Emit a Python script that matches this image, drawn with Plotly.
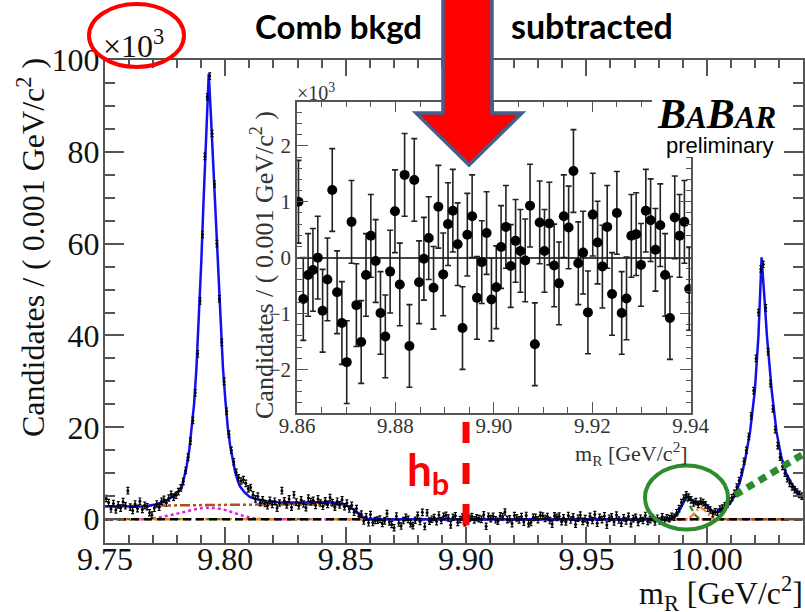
import numpy as np
import plotly.graph_objects as go

# ---------------- main spectrum (1 MeV bins) ----------------
# region 9.750 - 9.860
low_x = np.round(np.arange(110) * 0.001 + 9.7505, 4)
low_y = [4.5, 3.6, 2.2, 3.4, 2.0, 3.1, 2.4, 3.8, 2.9, 6.2,
         2.6, 1.9, 3.3, 2.3, 3.9, 2.1, 3.0, 2.7, 1.4, 0.9,
         2.4, 3.3, 2.6, 3.9, 4.3, 3.5, 4.6, 5.4, 4.8, 5.2,
         6.0, 6.8, 8.2, 10.6, 13.5, 17.0, 21.5, 27.5, 36.0, 47.5,
         62.0, 79.0, 92.0, 96.5, 84.0, 73.0, 60.0, 48.0, 38.5, 30.0,
         23.5, 18.5, 15.0, 12.5, 10.2, 9.0, 8.3, 8.6, 7.8, 6.6,
         6.9, 5.3, 4.4, 5.0, 3.6, 4.2, 3.4, 2.9, 4.1, 3.2,
         3.9, 2.4, 3.5, 6.2, 4.0, 3.1, 4.4, 2.6, 5.3, 3.7,
         2.9, 4.2, 3.3, 2.5, 4.6, 3.8, 4.1, 3.0, 4.4, 3.5,
         2.8, 4.0, 3.2, 4.7, 3.6, 2.6, 3.9, 3.1, 4.2, 2.7,
         3.5, 2.2, 3.0, 1.5, 2.3, 0.6, 1.1, -0.4, 0.5, -0.8]

# region 9.860 - 9.940 (also shown enlarged in the inset)
mid_x = np.linspace(9.8603, 9.9397, 82)
mid_y = [1.00, -0.74, -0.31, -0.22, 0.00, -0.95, -0.39, 1.21, -0.62, -1.17,
         -1.87, 0.64, -0.85, -1.51, -0.31, 0.39, -0.06, -0.99, -1.41, -0.25,
         0.83, -0.48, 1.48, -1.58, 1.39, -0.44, -0.02, 0.35, -0.54, 0.91,
         -0.30, 0.60, 0.84, 0.24, -1.26, 0.41, 0.74, -0.72, -0.08, 0.44,
         -0.75, -0.53, 0.19, 0.55, -0.15, 0.30, 0.12, -0.05, 0.93, -1.55,
         0.63, 0.12, 0.61, -0.14, -0.46, 0.74, 0.54, 1.55, -0.10, 0.09,
         -0.98, 0.77, 0.27, -0.16, 0.55, -0.65, 0.80, -0.99, -0.73, 0.39,
         0.42, -0.13, 0.84, 0.67, 0.14, 0.58, -0.31, -1.08, 0.72, 0.39,
         0.64, -0.56]
mid_err = [0.74] * len(mid_y)

# region 9.940 - 10.040
high_x = np.round(np.arange(100) * 0.001 + 9.9405, 4)
high_y = [0.3, -0.6, 0.8, -0.2, 0.5, -1.1, 0.2, 0.9, -0.5, 0.1,
          -0.8, 0.6, -0.3, 1.0, -0.9, 0.4, -0.1, 0.7, -1.3, 0.2,
          0.5, -0.6, 0.9, -0.2, -0.9, 0.3, -0.4, 0.6, -1.0, 0.1,
          0.4, -0.7, 0.2, -0.3, 0.8, -0.5, -0.1, 0.3, -0.6, 0.2,
          -0.4, 0.5, -0.2, 0.3, 0.1, 0.6, 0.4, 1.4, 2.3, 3.6,
          4.6, 5.3, 4.8, 4.2, 3.5, 3.8, 3.2, 3.9, 3.6, 3.1,
          2.4, 2.0, 1.2, 1.6, 1.5, 2.2, 2.4, 2.9, 3.2, 3.9,
          4.7, 5.6, 7.0, 8.4, 10.2, 12.6, 15.0, 18.0, 22.5, 28.0,
          35.0, 45.0, 54.5, 55.5, 46.0, 36.5, 29.5, 24.0, 19.5, 16.0,
          13.5, 11.5, 10.0, 8.8, 7.8, 7.0, 6.4, 5.9, 5.4, 5.0]

data_x = np.concatenate([low_x, mid_x, high_x])
data_y = np.array(low_y + mid_y + high_y)
data_err = np.array([0.7] * len(data_y))

# ---------------- fit components ----------------
fit_x = [9.750, 9.755, 9.760, 9.765, 9.768, 9.771, 9.774, 9.776, 9.778, 9.780,
         9.7818, 9.7839, 9.785, 9.786, 9.787, 9.788, 9.789, 9.790, 9.791, 9.792,
         9.7931, 9.794, 9.795, 9.796, 9.797, 9.798, 9.799, 9.800, 9.801, 9.802,
         9.803, 9.804, 9.805, 9.806, 9.808, 9.810, 9.813, 9.817, 9.822, 9.830,
         9.838, 9.845, 9.849, 9.851, 9.853, 9.855, 9.857, 9.859, 9.862, 9.984,
         9.986, 9.988, 9.990, 9.9915, 9.993, 9.9945, 9.996, 9.998, 9.9995, 10.001,
         10.0025, 10.004, 10.006, 10.008, 10.010, 10.012, 10.014, 10.016, 10.018, 10.020,
         10.0215, 10.0228, 10.024, 10.025, 10.027, 10.029, 10.031, 10.033, 10.035, 10.037,
         10.039, 10.040]
fit_y = [2.8, 2.75, 2.7, 2.75, 2.9, 3.2, 3.7, 4.2, 4.9, 5.8,
         6.7, 11.4, 15.0, 20.0, 25.0, 33.0, 44.0, 56.0, 70.0, 84.0,
         97.0, 88.0, 77.0, 65.0, 52.0, 41.0, 33.0, 26.0, 20.0, 16.0,
         13.0, 10.5, 8.6, 7.2, 5.8, 4.9, 4.3, 3.9, 3.7, 3.6,
         3.7, 3.6, 3.2, 2.8, 2.2, 1.4, 0.5, 0.1, 0.0, 0.0,
         0.3, 1.3, 3.2, 5.0, 4.5, 3.8, 3.4, 3.6, 3.3, 2.5,
         1.6, 1.5, 2.0, 2.5, 3.6, 5.5, 8.5, 13.0, 19.0, 28.0,
         40.0, 57.0, 48.0, 40.0, 28.0, 19.0, 13.5, 10.0, 8.0, 6.3,
         5.0, 4.7]

bkg_x = [9.750, 9.760, 9.770, 9.780, 9.800, 9.820, 9.840, 9.848, 9.852, 9.855, 9.858, 9.860, 10.040]
bkg_y = [2.8, 2.8, 2.9, 3.0, 3.15, 3.2, 3.2, 3.0, 2.3, 1.2, 0.2, 0.0, 0.0]

refl_x = [9.750, 9.768, 9.772, 9.776, 9.780, 9.784, 9.788, 9.792, 9.796, 9.800,
          9.804, 9.808, 9.812, 9.816, 10.040]
refl_y = [0.0, 0.0, 0.3, 0.7, 1.2, 1.7, 2.2, 2.5, 2.4, 2.0,
          1.3, 0.6, 0.15, 0.0, 0.0]

sigA_x = [9.750, 9.985, 9.988, 9.990, 9.9915, 9.993, 9.995, 9.997, 10.040]
sigA_y = [0.0, 0.0, 1.0, 3.6, 4.4, 3.0, 1.0, 0.0, 0.0]

sigB_x = [9.750, 9.992, 9.994, 9.996, 9.9975, 9.999, 10.001, 10.003, 10.040]
sigB_y = [0.0, 0.0, 0.8, 2.0, 2.5, 2.0, 0.8, 0.0, 0.0]

zero_x = [9.750, 10.040]
zero_y = [0.0, 0.0]

x_ticks = [9.75, 9.80, 9.85, 9.90, 9.95, 10.00]
y_ticks = [0, 20, 40, 60, 80, 100]
inset_x_ticks = [9.86, 9.88, 9.90, 9.92, 9.94]
inset_y_ticks = [-2, -1, 0, 1, 2]

hb_mass = 9.90

# ---------------- page geometry (pixels) ----------------
W, H = 805, 612
L, R, T, B = 105, 2, 60, 69
PW, PH = W - L - R, H - T - B


def px(xp):
    return (xp - L) / PW


def py(yp):
    return (H - B - yp) / PH


SERIF = "Liberation Serif, Times New Roman, serif"
SANS = "Lato, Calibri, sans-serif"

fig = go.Figure()

# zero-level components and shaped pdfs
fig.add_trace(go.Scatter(x=refl_x, y=refl_y, mode="lines",
                         line=dict(color="#E020E0", width=2.5, dash="3px,3px")))
fig.add_trace(go.Scatter(x=sigA_x, y=sigA_y, mode="lines",
                         line=dict(color="#1E8C1E", width=2.2, dash="6px,4px")))
fig.add_trace(go.Scatter(x=sigB_x, y=sigB_y, mode="lines",
                         line=dict(color="#FF7F0E", width=2.2, dash="7px,3px,2px,3px")))
fig.add_trace(go.Scatter(x=bkg_x, y=bkg_y, mode="lines",
                         line=dict(color="#B4501E", width=2.5, dash="10px,3px,3px,3px,3px,3px")))
fig.add_trace(go.Scatter(x=zero_x, y=zero_y, mode="lines",
                         line=dict(color="black", width=2.5, dash="8px,5px")))
fig.add_trace(go.Scatter(x=fit_x, y=fit_y, mode="lines",
                         line=dict(color="#1010F0", width=2.5)))
fig.add_trace(go.Scatter(x=data_x, y=data_y, mode="markers",
                         marker=dict(color="black", size=3),
                         error_y=dict(type="data", array=data_err, color="black",
                                      thickness=1.2, width=1.5)))

# inset: same data, zoomed
fig.add_trace(go.Scatter(x=mid_x, y=mid_y, mode="markers", xaxis="x2", yaxis="y2",
                         marker=dict(color="black", size=10),
                         error_y=dict(type="data", array=mid_err, color="#222222",
                                      thickness=1.6, width=3)))

axis_common = dict(showline=True, linecolor="#555555", mirror="allticks",
                   ticks="inside", showgrid=False, automargin=False)

fig.update_layout(
    width=W, height=H,
    margin=dict(l=L, r=R, t=T, b=B, autoexpand=False),
    paper_bgcolor="white", plot_bgcolor="white",
    showlegend=False,
    xaxis=dict(range=[9.75, 10.04], tickvals=x_ticks, tickformat=".2f",
               ticklen=16, tickwidth=1.5, linewidth=2, tickcolor="#555555",
               minor=dict(dtick=0.01, ticklen=8, tickwidth=1.5, tickcolor="#555555", ticks="inside"),
               ticklabelstandoff=-13, zeroline=False,
               tickfont=dict(family=SERIF, size=32, color="#111111"), **axis_common),
    yaxis=dict(range=[-5.2, 100], tickvals=y_ticks,
               ticklen=19, tickwidth=1.5, linewidth=2, tickcolor="#555555",
               minor=dict(dtick=5, ticklen=10, tickwidth=1.5, tickcolor="#555555", ticks="inside"),
               ticklabelstandoff=-3, zeroline=False,
               tickfont=dict(family=SERIF, size=32, color="#111111"), **axis_common),
    xaxis2=dict(domain=[px(297), px(690.7)], anchor="y2", range=[9.86, 9.94],
                tickvals=inset_x_ticks, tickformat=".2f",
                ticklen=11, tickwidth=1.2, linewidth=1.5, tickcolor="#555555",
                minor=dict(dtick=0.005, ticklen=6, tickwidth=1.2, tickcolor="#555555", ticks="inside"),
                ticklabelstandoff=-7, zeroline=False,
                tickfont=dict(family=SERIF, size=21, color="#333333"), **axis_common),
    yaxis2=dict(domain=[py(413), py(101.7)], anchor="x2", range=[-2.78, 2.79],
                tickvals=inset_y_ticks,
                ticklen=11, tickwidth=1.2, linewidth=1.5, tickcolor="#555555",
                minor=dict(dtick=0.2, ticklen=5, tickwidth=1.2, tickcolor="#555555", ticks="inside"),
                zeroline=True, zerolinecolor="#444444", zerolinewidth=1.5,
                tickfont=dict(family=SERIF, size=21, color="#333333"), **axis_common),
)

shapes = []
# white patch behind the BABAR logo
shapes.append(dict(type="rect", xref="paper", yref="paper",
                   x0=px(652), x1=px(782), y0=py(157), y1=py(92),
                   fillcolor="white", line=dict(width=0), layer="above"))
# red arrow from the headline
arrow = [(443, -5), (492, -5), (492, 113), (522, 113), (469, 165), (416, 113), (443, 113)]
path = "M " + " L ".join(f"{px(a):.4f},{py(b):.4f}" for a, b in arrow) + " Z"
shapes.append(dict(type="path", xref="paper", yref="paper", path=path,
                   fillcolor="#FF0000", line=dict(color="#41618C", width=3.5), layer="above"))
# h_b mass marker
shapes.append(dict(type="line", xref="x", yref="paper", x0=hb_mass, x1=hb_mass,
                   y0=py(422), y1=py(536), line=dict(color="#FF0000", width=7, dash="21px,20px"),
                   layer="above"))
# circle around the exponent
shapes.append(dict(type="circle", xref="paper", yref="paper",
                   x0=px(89), x1=px(184), y0=py(67), y1=py(4),
                   line=dict(color="#FF0000", width=4), layer="above"))
# green circle around the small bump
shapes.append(dict(type="circle", xref="paper", yref="paper",
                   x0=px(645), x1=px(728), y0=py(529.5), y1=py(465.5),
                   line=dict(color="#2E8B2E", width=4), layer="above"))
# green dotted pointer
shapes.append(dict(type="line", xref="paper", yref="paper",
                   x0=px(735), y0=py(495), x1=px(807), y1=py(452),
                   line=dict(color="#2E8B2E", width=7, dash="8px,6px"), layer="above"))
fig.update_layout(shapes=shapes)

ann = []
ann.append(dict(text="×10<sup>3</sup>", xref="paper", yref="paper", x=px(101), y=py(44),
                xanchor="left", yanchor="middle", showarrow=False,
                font=dict(family=SERIF, size=32, color="#111111")))
ann.append(dict(text="Candidates / ( 0.001 GeV/c<sup>2</sup> )", xref="paper", yref="paper",
                x=px(31), y=py(248), textangle=-90, showarrow=False,
                xanchor="center", yanchor="middle",
                font=dict(family=SERIF, size=32, color="#111111")))
ann.append(dict(text="m<sub>R</sub> [GeV/c<sup>2</sup>]", xref="paper", yref="paper",
                x=px(805), y=py(593), xanchor="right", yanchor="middle", showarrow=False,
                font=dict(family=SERIF, size=32, color="#111111")))
ann.append(dict(text="×10<sup>3</sup>", xref="paper", yref="paper", x=px(295), y=py(92),
                xanchor="left", yanchor="middle", showarrow=False,
                font=dict(family=SERIF, size=20, color="#333333")))
ann.append(dict(text="Candidates / ( 0.001 GeV/c<sup>2</sup> )", xref="paper", yref="paper",
                x=px(262), y=py(265), textangle=-90, showarrow=False,
                xanchor="center", yanchor="middle",
                font=dict(family=SERIF, size=26, color="#333333")))
ann.append(dict(text="m<sub>R</sub> [GeV/c<sup>2</sup>]", xref="paper", yref="paper",
                x=px(690), y=py(453), xanchor="right", yanchor="middle", showarrow=False,
                font=dict(family=SERIF, size=22, color="#333333")))
ann.append(dict(text="<b><i>B<span style='font-size:31px'>A</span>B<span style='font-size:31px'>AR</span></i></b>",
                xref="paper", yref="paper", x=px(716), y=py(114),
                xanchor="center", yanchor="middle", showarrow=False,
                font=dict(family=SERIF, size=42, color="black")))
ann.append(dict(text="preliminary", xref="paper", yref="paper", x=px(720), y=py(145),
                xanchor="center", yanchor="middle", showarrow=False,
                font=dict(family="Liberation Sans, Arial, sans-serif", size=22, color="black")))
ann.append(dict(text="<b>Comb bkgd</b>", xref="paper", yref="paper", x=px(338), y=py(26),
                xanchor="center", yanchor="middle", showarrow=False,
                font=dict(family=SANS, size=33, color="black")))
ann.append(dict(text="<b>subtracted</b>", xref="paper", yref="paper", x=px(592), y=py(26),
                xanchor="center", yanchor="middle", showarrow=False,
                font=dict(family=SANS, size=34, color="black")))
ann.append(dict(text="<b>h<sub>b</sub></b>", xref="paper", yref="paper", x=px(428), y=py(472),
                xanchor="center", yanchor="middle", showarrow=False,
                font=dict(family=SANS, size=44, color="#FF0000")))
fig.update_layout(annotations=ann)

fig.write_html("out.html")
